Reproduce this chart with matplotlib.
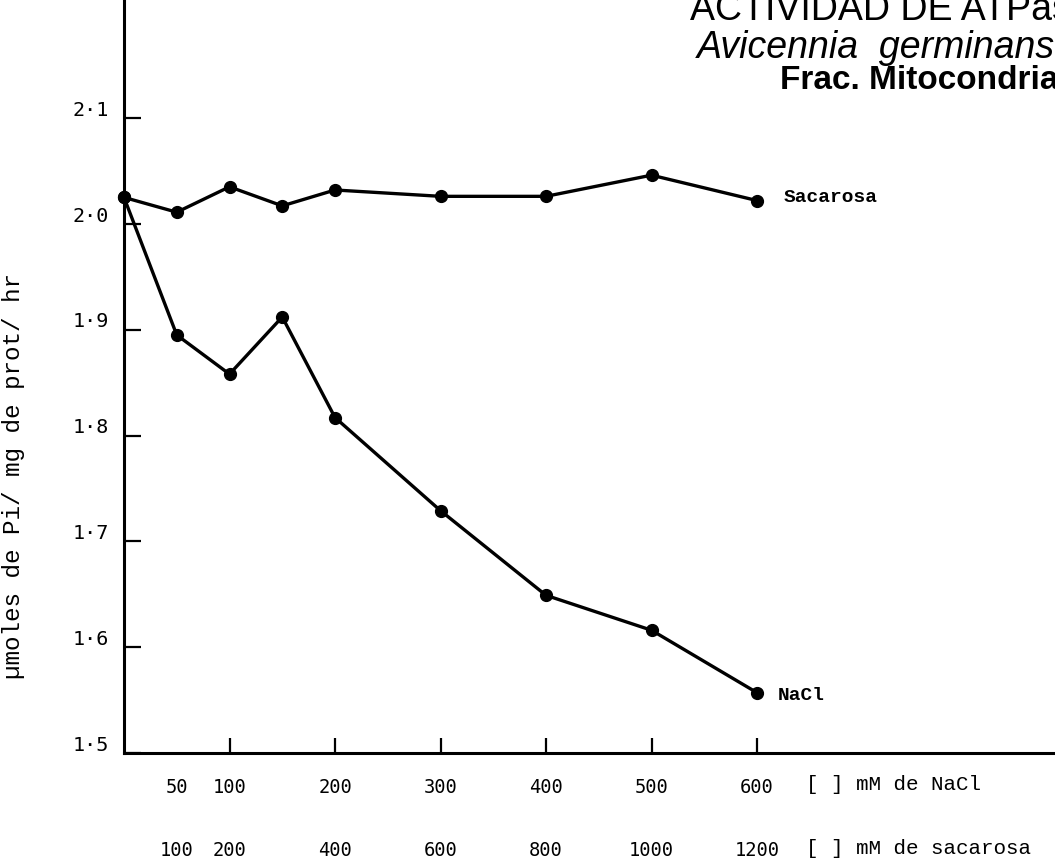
import matplotlib
matplotlib.use("Agg")
import matplotlib.pyplot as plt
import matplotlib.transforms as mtransforms
import numpy as np

# Concentrations tested (NaCl and sucrose scales share the x axis: sucrose = 2 x NaCl)
nacl_mM = [0, 50, 100, 150, 200, 300, 400, 500, 600]
sacarosa_mM = [0, 100, 200, 300, 400, 600, 800, 1000, 1200]

# ATPase activity (umol Pi / mg prot / hr)
actividad_nacl = [2.025, 1.895, 1.858, 1.912, 1.817, 1.729, 1.649, 1.616, 1.557]
actividad_sacarosa = [2.025, 2.011, 2.035, 2.017, 2.032, 2.026, 2.026, 2.046, 2.022]

# Axis tick values and their printed labels
y_ticks = [1.5, 1.6, 1.7, 1.8, 1.9, 2.0, 2.1]
y_labels = ["1·5", "1·6", "1·7", "1·8", "1·9", "2·0", "2·1"]
nacl_ticks = [100, 200, 300, 400, 500, 600]
nacl_minor = [50]
sac_ticks = [100, 200, 400, 600, 800, 1000, 1200]

W, H = 1055, 865
fig = plt.figure(figsize=(W / 100, H / 100), dpi=100)
ax = fig.add_axes([124 / W, 112 / H, 931 / W, 753 / H])

mono = "Liberation Mono"
sans = "Liberation Sans"

x_sac = np.array(sacarosa_mM) / 2.0
line_kw = dict(color="black", lw=2.4, marker="o", ms=8.5, clip_on=False,
               solid_joinstyle="round")
ax.plot(x_sac, actividad_sacarosa, **line_kw)
ax.plot(nacl_mM, actividad_nacl, **line_kw)

ax.set_xlim(0, 931 / 1.055)
ax.set_ylim(1.5, 1.5 + 753 / 1058.3)

for s in ("top", "right"):
    ax.spines[s].set_visible(False)
for s in ("left", "bottom"):
    ax.spines[s].set_linewidth(2.2)

# y axis ticks pointing inward, labels sitting a little above each tick
ax.set_yticks(y_ticks)
ax.set_yticklabels(y_labels, fontfamily="DejaVu Sans Mono", fontsize=14.5)
ax.tick_params(axis="y", direction="in", length=12, width=1.6, pad=11)
offset = mtransforms.ScaledTranslation(0, 7 / 72, fig.dpi_scale_trans)
for lab in ax.get_yticklabels():
    lab.set_transform(lab.get_transform() + offset)

# NaCl concentration row
ax.set_xticks(nacl_ticks)
ax.set_xticklabels([str(v) for v in nacl_ticks], fontfamily="DejaVu Sans Mono",
                   fontsize=13.5)
ax.set_xticks(nacl_minor, minor=True)
ax.set_xticklabels([str(v) for v in nacl_minor], minor=True,
                   fontfamily="DejaVu Sans Mono", fontsize=13.5)
ax.tick_params(axis="x", which="major", direction="in", length=11, width=1.6, pad=18)
ax.tick_params(axis="x", which="minor", length=0, pad=18)

# Sucrose concentration row below
secax = ax.secondary_xaxis(-0.0837, functions=(lambda x: 2 * x, lambda x: x / 2))
secax.set_xticks(sac_ticks)
secax.set_xticklabels([str(v) for v in sac_ticks], fontfamily="DejaVu Sans Mono",
                      fontsize=13.5)
secax.tick_params(axis="x", length=0, pad=18)
secax.spines["bottom"].set_visible(False)

fig.text(14 / W, 1 - 476 / H, "µmoles de Pi/ mg de prot/ hr", fontfamily=mono,
         fontsize=17.5, rotation=90, va="center", ha="center")

fig.text(806 / W, 1 - 785 / H, "[ ] mM de NaCl", fontfamily=mono, fontsize=15,
         va="center", ha="left")
fig.text(806 / W, 1 - 848 / H, "[ ] mM de sacarosa", fontfamily=mono, fontsize=15,
         va="center", ha="left")

ax.annotate("Sacarosa", xy=(x_sac[-1], actividad_sacarosa[-1]), xytext=(19, 2),
            textcoords="offset points", fontfamily=mono, fontsize=14,
            fontweight="bold", va="center", ha="left")
ax.annotate("NaCl", xy=(nacl_mM[-1], actividad_nacl[-1]), xytext=(15, -2),
            textcoords="offset points", fontfamily=mono, fontsize=14,
            fontweight="bold", va="center", ha="left")

# Heading block in the upper right
fig.text(690 / W, 1 - 20 / H, "ACTIVIDAD DE ATPasa", fontfamily=sans,
         fontsize=27, va="baseline", ha="left")
fig.text(697 / W, 1 - 58 / H, "Avicennia  germinans", fontfamily=sans,
         fontsize=27, style="italic", va="baseline", ha="left")
fig.text(780 / W, 1 - 89 / H, "Frac. Mitocondrial", fontfamily=sans,
         fontsize=24, fontweight="bold", va="baseline", ha="left")

fig.savefig("out.png", dpi=100)
